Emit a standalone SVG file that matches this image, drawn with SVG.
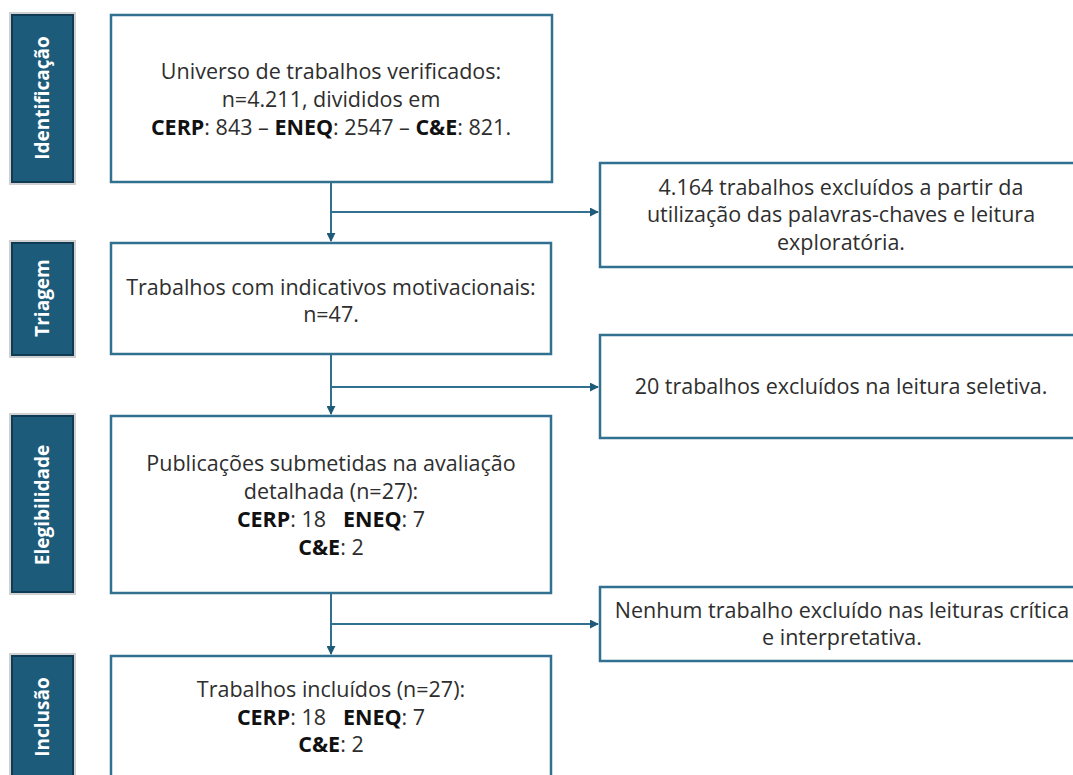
<svg xmlns="http://www.w3.org/2000/svg" width="1073" height="775" viewBox="0 0 1073 775">
<style>
.bg{fill:#ffffff}
.box{fill:#ffffff;stroke:#31708f;stroke-width:2.5}
.lab{fill:#1d5b7b;stroke:#0f3c54;stroke-width:2}
.shadow{fill:none;stroke:#d0d0d0;stroke-width:2}
.labt{font-family:"Open Sans","Liberation Sans",sans-serif;font-size:19px;font-weight:bold;fill:#ffffff;text-anchor:middle}
.t{font-family:"Open Sans","Liberation Sans",sans-serif;font-size:21.5px;fill:#2e2e2e;text-anchor:middle;white-space:pre}
.b{font-weight:bold;fill:#111111}
.con{fill:none;stroke:#31708f;stroke-width:2}
</style>
<defs>
<marker id="arr" viewBox="0 0 10 10" refX="9" refY="5" markerWidth="4.5" markerHeight="4.5" orient="auto" markerUnits="strokeWidth">
<path d="M0,0 L10,5 L0,10 z" fill="#1f5a78"/>
</marker>
</defs>
<rect class="bg" x="0" y="0" width="1073" height="775"/>

<g id="label-identificacao">
<rect class="shadow" x="10" y="13" width="65" height="171"/>
<rect class="lab" x="12" y="15" width="61" height="167"/>
<text class="labt" transform="translate(49,98) rotate(-90)">Identificação</text>
</g>
<g id="label-triagem">
<rect class="shadow" x="10" y="241" width="65" height="116"/>
<rect class="lab" x="12" y="243" width="61" height="112"/>
<text class="labt" transform="translate(49,298) rotate(-90)">Triagem</text>
</g>
<g id="label-elegibilidade">
<rect class="shadow" x="10" y="414" width="65" height="180"/>
<rect class="lab" x="12" y="416" width="61" height="176"/>
<text class="labt" transform="translate(49,505) rotate(-90)">Elegibilidade</text>
</g>
<g id="label-inclusao">
<rect class="shadow" x="10" y="654" width="65" height="126"/>
<rect class="lab" x="12" y="656" width="61" height="122"/>
<text class="labt" transform="translate(49,717) rotate(-90)">Inclusão</text>
</g>

<g id="connectors">
<path class="con" d="M331,182 V241" marker-end="url(#arr)"/>
<path class="con" d="M331,212 H598" marker-end="url(#arr)"/>
<path class="con" d="M331,354 V414" marker-end="url(#arr)"/>
<path class="con" d="M331,387 H598" marker-end="url(#arr)"/>
<path class="con" d="M331,593 V654" marker-end="url(#arr)"/>
<path class="con" d="M331,624 H598" marker-end="url(#arr)"/>
</g>

<g id="node-universo">
<rect class="box" x="111" y="15" width="441" height="167"/>
<text class="t" x="331" y="79">Universo de trabalhos verificados:</text>
<text class="t" x="331" y="107">n=4.211, divididos em</text>
<text class="t" x="331" y="135"><tspan class="b">CERP</tspan>: 843 – <tspan class="b">ENEQ</tspan>: 2547 – <tspan class="b">C&amp;E</tspan>: 821.</text>
</g>

<g id="node-triagem">
<rect class="box" x="111" y="243" width="440" height="111"/>
<text class="t" x="331" y="295">Trabalhos com indicativos motivacionais:</text>
<text class="t" x="331" y="322">n=47.</text>
</g>

<g id="node-elegibilidade">
<rect class="box" x="111" y="416" width="440" height="177"/>
<text class="t" x="331" y="471">Publicações submetidas na avaliação</text>
<text class="t" x="331" y="499">detalhada (n=27):</text>
<text class="t" x="331" y="527"><tspan class="b">CERP</tspan>: 18   <tspan class="b">ENEQ</tspan>: 7</text>
<text class="t" x="331" y="555"><tspan class="b">C&amp;E</tspan>: 2</text>
</g>

<g id="node-inclusao">
<rect class="box" x="111" y="656" width="440" height="125"/>
<text class="t" x="331" y="697">Trabalhos incluídos (n=27):</text>
<text class="t" x="331" y="725"><tspan class="b">CERP</tspan>: 18   <tspan class="b">ENEQ</tspan>: 7</text>
<text class="t" x="331" y="752"><tspan class="b">C&amp;E</tspan>: 2</text>
</g>

<g id="node-excluidos-1">
<rect class="box" x="600" y="163" width="483" height="104"/>
<text class="t" x="841" y="195">4.164 trabalhos excluídos a partir da</text>
<text class="t" x="841" y="222">utilização das palavras-chaves e leitura</text>
<text class="t" x="841" y="250">exploratória.</text>
</g>

<g id="node-excluidos-2">
<rect class="box" x="600" y="335" width="483" height="103"/>
<text class="t" x="841" y="394">20 trabalhos excluídos na leitura seletiva.</text>
</g>

<g id="node-excluidos-3">
<rect class="box" x="600" y="587" width="483" height="74"/>
<text class="t" x="842" y="618">Nenhum trabalho excluído nas leituras crítica</text>
<text class="t" x="842" y="645">e interpretativa.</text>
</g>
</svg>
